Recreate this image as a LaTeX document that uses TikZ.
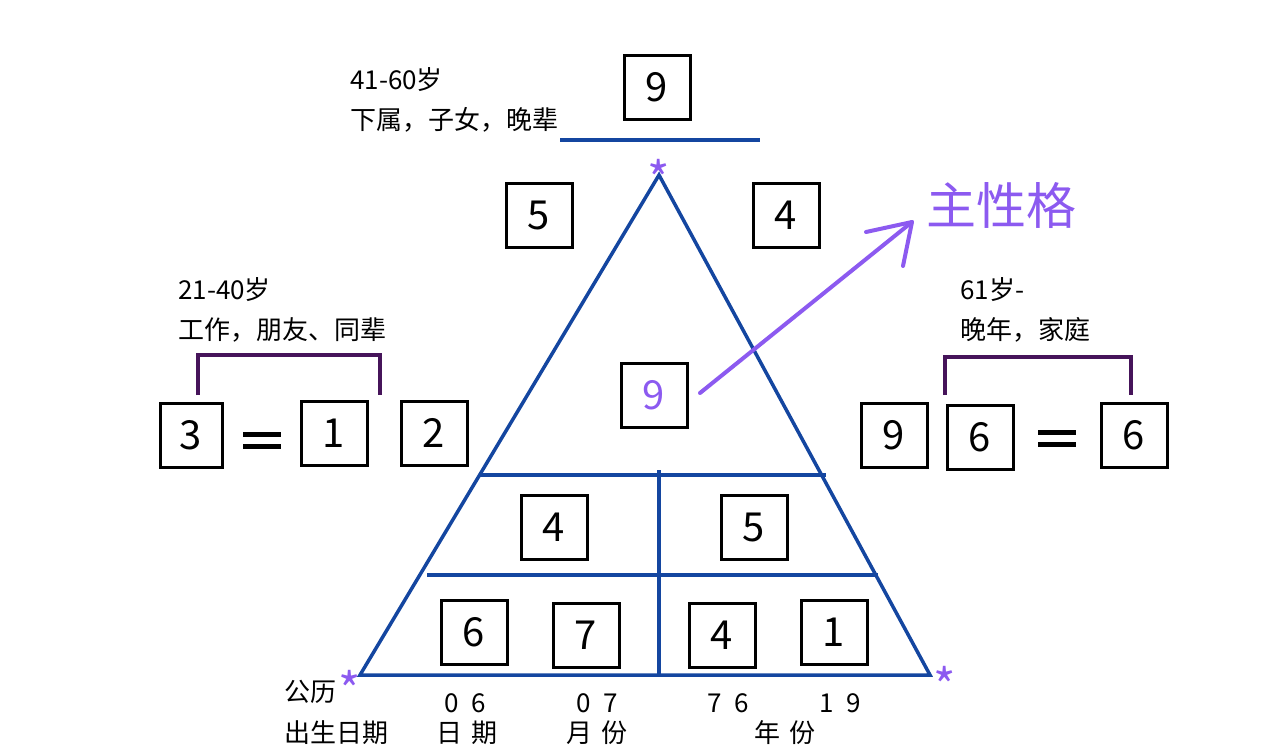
\documentclass[tikz,border=0pt]{standalone}
\usepackage{fontspec}
\setmainfont{Noto Sans CJK SC}
\definecolor{tblue}{RGB}{20,70,160}
\definecolor{pur}{RGB}{140,90,240}
\definecolor{dpur}{RGB}{70,20,90}
\begin{document}
\begin{tikzpicture}[x=1pt,y=-1pt,
 tri/.style={draw=tblue,line width=3.5pt},
 bx/.style={draw=black,line width=3pt,minimum width=66pt,minimum height=64pt,inner sep=0pt,font=\fontsize{40}{40}\selectfont},
 lbl/.style={anchor=west,font=\fontsize{26}{26}\selectfont,inner sep=0pt},
 sm/.style={font=\fontsize{26}{26}\selectfont,inner sep=0pt},
 st/.style={text=pur,font=\fontsize{48}{48}\selectfont,inner sep=0pt},
 eqs/.style={line width=5pt}]
\path[use as bounding box] (0,0) rectangle (1280,750);
\coordinate (A) at (659,175); \coordinate (L) at (360,675); \coordinate (R) at (930,675);
\draw[tri,line join=miter] (A) -- (L) -- (R) -- cycle;
\draw[tri] (480,475) -- (826,475);
\draw[tri] (427,575) -- (878,575);
\draw[tri] (659,470) -- (659,675);
\draw[tri] (560,140) -- (760,140);
\node[bx] (t9) at (657,87) {9};
\node[bx] (a5) at (539,215) {5};
\node[bx] (a4) at (786,215) {4};
\node[bx,text=pur] (c9) at (654,395) {9};
\node[bx,minimum width=62pt] (b3) at (191,435) {3};
\node[bx] (b1) at (334,433) {1};
\node[bx] (b2) at (434,433) {2};
\node[bx] (d9) at (894,435) {9};
\node[bx] (d6) at (980,437) {6};
\node[bx] (e6) at (1134,435) {6};
\node[bx] (m4) at (554,527) {4};
\node[bx] (m5) at (754,527) {5};
\node[bx] (n6) at (474,632) {6};
\node[bx] (n7) at (586,635) {7};
\node[bx] (n4) at (722,635) {4};
\node[bx] (n1) at (834,632) {1};
\coordinate (eq1) at (262,440); \coordinate (eq2) at (1057,438);
\draw[eqs] ([xshift=-19pt,yshift=-6pt]eq1) -- ([xshift=19pt,yshift=-6pt]eq1);
\draw[eqs] ([xshift=-19pt,yshift=6pt]eq1) -- ([xshift=19pt,yshift=6pt]eq1);
\draw[eqs] ([xshift=-19pt,yshift=-6pt]eq2) -- ([xshift=19pt,yshift=-6pt]eq2);
\draw[eqs] ([xshift=-19pt,yshift=6pt]eq2) -- ([xshift=19pt,yshift=6pt]eq2);
\draw[line width=4pt,draw=dpur] (198,395) -- (198,355) -- (380,355) -- (380,395);
\draw[line width=4pt,draw=dpur] (945,395) -- (945,357) -- (1131,357) -- (1131,395);
\coordinate (tip) at (912,222);
\draw[line width=4pt,pur,line cap=round] (700,393) -- (tip);
\draw[line width=4pt,pur,line cap=round,line join=round] (866,232) -- (tip) -- (903,266);
\node[anchor=west,text=pur,font=\fontsize{50}{50}\selectfont,inner sep=0pt] (zx) at (926,205) {主性格};
\node[st] (s1) at (659,178) {*};
\node[st] (s2) at (350,689) {*};
\node[st] (s3) at (945,685) {*};
\node[lbl] at (350,80) {41-60岁};
\node[lbl] at (350,120) {下属，子女，晚辈};
\node[lbl] at (178,290) {21-40岁};
\node[lbl] at (178,330) {工作，朋友、同辈};
\node[lbl] at (960,290) {61岁-};
\node[lbl] at (960,330) {晚年，家庭};
\node[lbl] at (284,692) {公历};
\node[lbl] at (284,733) {出生日期};
\node[sm] at (465,703) {0\,\,\,6};
\node[sm] at (597,703) {0\,\,\,7};
\node[sm] at (728,703) {7\,\,\,6};
\node[sm] at (840,703) {1\,\,\,9};
\node[sm] at (467,733) {日\,\,期};
\node[sm] at (597,733) {月\,\,份};
\node[sm] at (785,733) {年\,\,份};
\end{tikzpicture}
\end{document}
